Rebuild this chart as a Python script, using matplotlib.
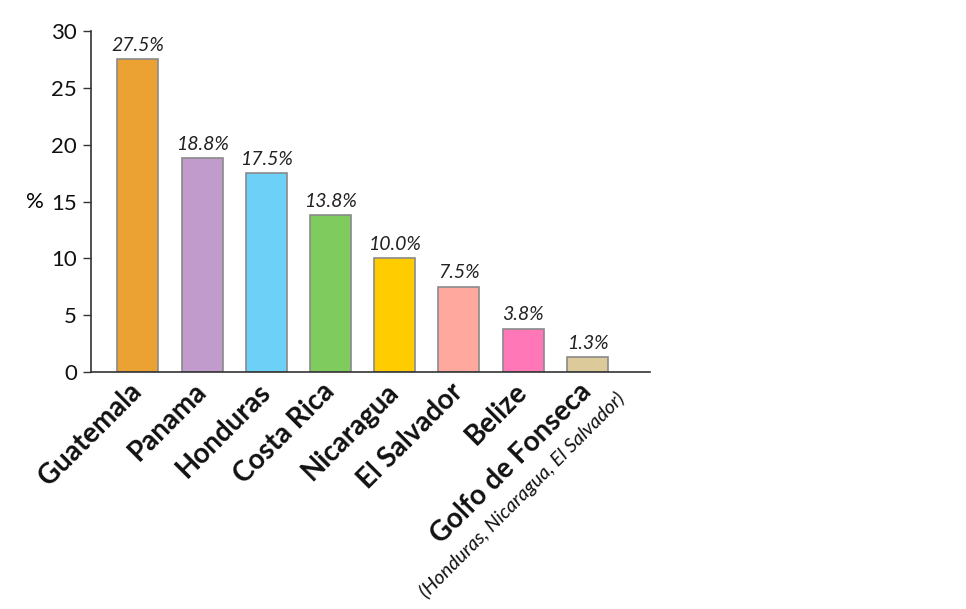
import matplotlib
matplotlib.use("Agg")
import matplotlib.pyplot as plt
import matplotlib.transforms as mtransforms

plt.rcParams['font.family'] = ['Lato', 'DejaVu Sans']

# data
countries = ['Guatemala', 'Panama', 'Honduras', 'Costa Rica', 'Nicaragua',
             'El Salvador', 'Belize', 'Golfo de Fonseca']
shares = [27.5, 18.8, 17.5, 13.8, 10.0, 7.5, 3.8, 1.3]
value_labels = ['27.5%', '18.8%', '17.5%', '13.8%', '10.0%', '7.5%', '3.8%', '1.3%']
bar_colors = ['#EBA232', '#C29BCD', '#6DD0F7', '#7FCB5E', '#FFCC00',
              '#FFA89E', '#FF77B6', '#DCCA9A']
golfo_note = '(Honduras, Nicaragua, El Salvador)'

fig = plt.figure(figsize=(9.66, 6.09), dpi=100)
ax = fig.add_axes([0.0942, 0.389, 0.579, 0.560])

x = list(range(len(countries)))
ax.bar(x, shares, width=0.64, color=bar_colors, edgecolor='#8a8a8a',
       linewidth=1.2, zorder=2)

ax.set_xlim(-0.73, 7.98)
ax.set_ylim(0, 30)
ax.set_yticks([0, 5, 10, 15, 20, 25, 30])
ax.tick_params(axis='y', labelsize=16, length=6, width=1, color='#333333',
               pad=4, labelcolor='#111111')
ax.set_xticks([])

for side in ['top', 'right']:
    ax.spines[side].set_visible(False)
for side in ['left', 'bottom']:
    ax.spines[side].set_color('#333333')
    ax.spines[side].set_linewidth(1.2)

ax.set_ylabel('%', fontsize=16, rotation=0, labelpad=12, va='center')

# value labels on top of the bars
for xi, val, lab in zip(x, shares, value_labels):
    ax.annotate(lab, (xi, val), xytext=(0, 4), textcoords='offset points',
                ha='center', va='bottom', fontsize=14, style='italic',
                color='#222222')

# rotated category labels
for xi, name in zip(x, countries):
    trans = ax.transData + mtransforms.ScaledTranslation(0, -11 / 72,
                                                         fig.dpi_scale_trans)
    ax.text(xi, 0, name, transform=trans, rotation=45, rotation_mode='anchor',
            ha='right', va='center', fontsize=20, fontweight='bold',
            color='#111111')

trans = ax.transData + mtransforms.ScaledTranslation(25 / 72, -17 / 72,
                                                     fig.dpi_scale_trans)
ax.text(x[-1], 0, golfo_note, transform=trans, rotation=45,
        rotation_mode='anchor', ha='right', va='center', fontsize=14,
        style='italic', color='#111111')

fig.savefig('out.png', dpi=100)
